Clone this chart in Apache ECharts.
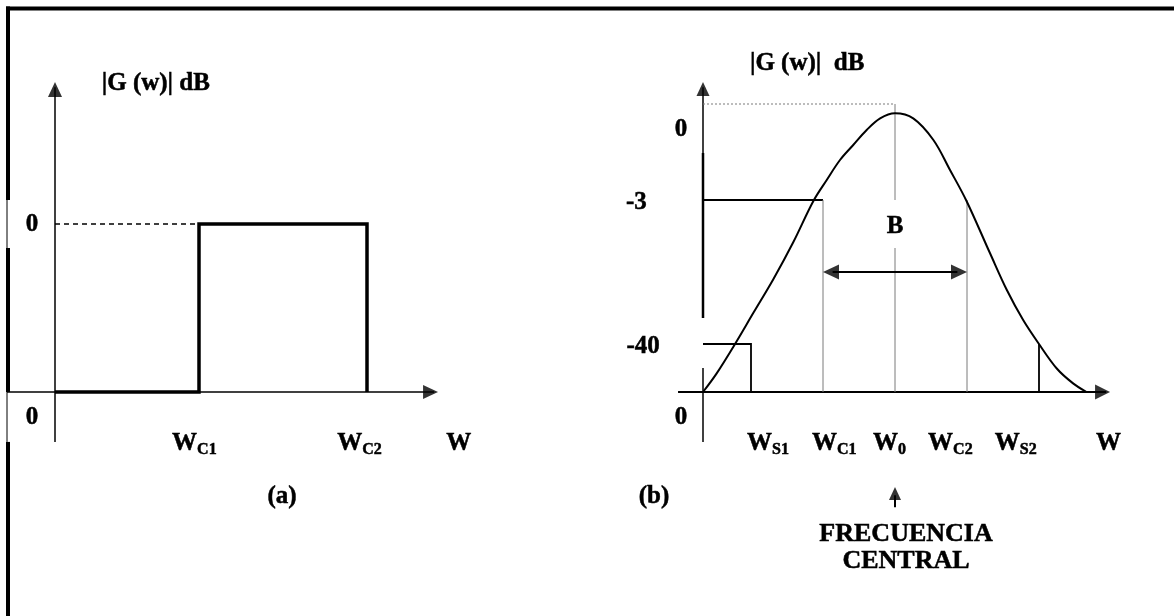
<!DOCTYPE html>
<html>
<head>
<meta charset="utf-8">
<script src="https://cdn.jsdelivr.net/npm/echarts@6/dist/echarts.min.js"></script>
<style>
  html, body { margin: 0; padding: 0; background: #fff; }
  #chart { width: 1174px; height: 616px; }
</style>
</head>
<body>
<div id="chart"></div>
<script>
// ---------- data ----------
// (a) ideal band-pass filter
const idealSubscripts = ['C1', 'C2'];
const idealCutoffs = [3.0, 6.5];          // W_C1, W_C2
const idealPassLevel = 3.5;               // 0 dB level of the pass band
const idealLevelTicks = ['0', '0'];       // pass band, stop band

// (b) real band-pass filter
const realSubscripts = ['S1', 'C1', '0', 'C2', 'S2'];
const realFreqs = [1.0, 2.5, 4.0, 5.5, 7.0];   // W_S1, W_C1, W_0, W_C2, W_S2
const realLevelTicks = ['0', '-3', '-40', '0'];
const realLevels = [6.0, 4.0, 1.0];            // peak reference, -3 dB, -40 dB
const realCurveX = [0, 0.285, 0.667, 1.05, 1.465, 1.88, 2.30, 2.578, 2.854, 3.13, 3.41, 3.69, 4.0,
                    4.38, 4.80, 5.146, 5.49, 5.98, 6.33, 6.67, 7.0, 7.37, 7.71, 7.99];
const realCurveY = [0, 0.389, 1.0, 1.65, 2.35, 3.12, 3.98, 4.417, 4.833, 5.146, 5.458, 5.70, 5.806,
                    5.70, 5.25, 4.625, 3.98, 2.89, 2.125, 1.5, 1.0, 0.49, 0.18, 0];
const bandwidthName = 'B';
const centreCaption = ['FRECUENCIA', 'CENTRAL'];
const axisTitle = ['|G (w)| dB', '|G (w)|  dB'];
const panelNames = ['(a)', '(b)'];

// ---------- layout ----------
const UNIT = 48;                 // pixels per data unit (both panels)
const Y_MIN = -4.5, Y_MAX = 8;
const FONT = '"Liberation Serif", "Times New Roman", serif';
const BLACK = '#000';
const GREY = '#7a7a7a';

function seg(g, pts, color, width, type, z) {
  return {
    type: 'line', xAxisIndex: g, yAxisIndex: g, data: pts,
    symbol: 'none', showSymbol: false, silent: true, animation: false,
    lineStyle: { color: color, width: width, type: type || 'solid', cap: 'butt', join: 'miter' },
    z: z || 3
  };
}

// filled triangular arrow head; tip given in data units, dir: 'right' | 'left' | 'up'
function heads(g, list) {
  return {
    type: 'scatter', xAxisIndex: g, yAxisIndex: g, silent: true, animation: false, z: 5,
    symbol: 'triangle', itemStyle: { color: BLACK },
    data: list.map(function (h) {
      const half = h.len / 2 / UNIT;
      let c, rot;
      if (h.dir === 'right') { c = [h.tip[0] - half, h.tip[1]]; rot = -90; }
      else if (h.dir === 'left') { c = [h.tip[0] + half, h.tip[1]]; rot = 90; }
      else { c = [h.tip[0], h.tip[1] - half]; rot = 0; }
      return { value: c, symbolSize: [h.wid, h.len], symbolRotate: rot };
    })
  };
}

// frequency label "W" + subscript, joined at x
function freqLabel(x, y, sub) {
  const out = [{ x: x, y: y, text: 'W', align: 'right' }];
  if (sub) out.push({ x: x, y: y, text: sub, align: 'left', size: 16, dy: 6 });
  return out;
}

const series = [];

// ----- panel (a) -----
const c1 = idealCutoffs[0], c2 = idealCutoffs[1], L = idealPassLevel;
series.push(seg(0, [[-1, 0], [7.9, 0]], BLACK, 1.5));
series.push(seg(0, [[0, -1.04], [0, 6.35]], BLACK, 1.5));
series.push(heads(0, [
  { tip: [7.98, 0], dir: 'right', len: 15, wid: 14 },
  { tip: [0, 6.46], dir: 'up', len: 15, wid: 14 }
]));
series.push(seg(0, [[0, L], [c1, L]], BLACK, 1.5, [5, 4]));
series.push(seg(0, [[0, 0], [c1, 0], [c1, L], [c2, L], [c2, 0]], BLACK, 3.5, 'solid', 4));

let labA = [
  { x: 2.10, y: 6.43, text: axisTitle[0] },
  { x: -0.48, y: L - 0.02, text: idealLevelTicks[0] },
  { x: -0.48, y: -0.53, text: idealLevelTicks[1] },
  { x: 4.73, y: -2.17, text: panelNames[0] }
];
const idealJoin = [2.96, 6.40];
idealSubscripts.forEach(function (s, i) { labA = labA.concat(freqLabel(idealJoin[i], -1.07, s)); });
labA = labA.concat(freqLabel(8.67, -1.07, ''));

// ----- panel (b) -----
const [fS1, fC1, f0, fC2, fS2] = realFreqs;
const [lTop, l3, l40] = realLevels;
series.push(seg(1, [[-0.52, 0], [8.4, 0]], BLACK, 2));
series.push(seg(1, [[0, 4.98], [0, 6.35]], BLACK, 1.5));
series.push(seg(1, [[0, 1.54], [0, 4.98]], BLACK, 2.5));
series.push(seg(1, [[0, -1.04], [0, 0.5]], BLACK, 1.5));
series.push(heads(1, [
  { tip: [8.48, 0], dir: 'right', len: 15, wid: 15 },
  { tip: [0, 6.46], dir: 'up', len: 14, wid: 13 },
  { tip: [fC1, 2.5], dir: 'left', len: 16, wid: 15 },
  { tip: [fC2, 2.5], dir: 'right', len: 16, wid: 15 },
  { tip: [f0, -1.98], dir: 'up', len: 13, wid: 12 }
]));
// response curve
series.push({
  type: 'line', xAxisIndex: 1, yAxisIndex: 1, smooth: 0.35, symbol: 'none', showSymbol: false,
  silent: true, animation: false, z: 4,
  lineStyle: { color: BLACK, width: 2 },
  data: realCurveX.map(function (x, i) { return [x, realCurveY[i]]; })
});
// -40 dB stop-band corner and the matching mark at W_S2
series.push(seg(1, [[0, l40], [fS1, l40], [fS1, 0]], BLACK, 1.8));
series.push(seg(1, [[fS2, 0], [fS2, l40]], BLACK, 1.8));
// -3 dB corner
series.push(seg(1, [[0, l3], [fC1, l3]], BLACK, 1.8));
series.push(seg(1, [[fC1, l3], [fC1, 0]], GREY, 1));
series.push(seg(1, [[fC2, l3], [fC2, 0]], GREY, 1));
// centre frequency and peak reference
series.push(seg(1, [[0, lTop], [f0, lTop]], GREY, 1, [2, 2]));
series.push(seg(1, [[f0, lTop], [f0, 4.0]], GREY, 1));
series.push(seg(1, [[f0, 3.0], [f0, 0]], GREY, 1));
// bandwidth arrow
series.push(seg(1, [[fC1 + 0.2, 2.5], [fC2 - 0.2, 2.5]], BLACK, 2));
// centre-frequency pointer
series.push(seg(1, [[f0, -2.4], [f0, -2.15]], BLACK, 2));

let labB = [
  { x: 2.17, y: 6.84, text: axisTitle[1] },
  { x: -0.46, y: 5.46, text: realLevelTicks[0] },
  { x: -1.17, y: l3 - 0.06, text: realLevelTicks[1], align: 'right' },
  { x: -0.90, y: l40 - 0.06, text: realLevelTicks[2], align: 'right' },
  { x: -0.46, y: -0.54, text: realLevelTicks[3] },
  { x: f0, y: 3.44, text: bandwidthName },
  { x: -1.02, y: -2.17, text: panelNames[1] },
  { x: 4.23, y: -2.96, text: centreCaption[0], size: 26 },
  { x: 4.23, y: -3.52, text: centreCaption[1], size: 26 }
];
const realJoin = [1.44, 2.79, 4.06, 5.21, 6.60];
realSubscripts.forEach(function (s, i) { labB = labB.concat(freqLabel(realJoin[i], -1.07, s)); });
labB = labB.concat(freqLabel(8.71, -1.07, ''));

const chart = echarts.init(document.getElementById('chart'), null, { renderer: 'canvas' });
chart.setOption({
  backgroundColor: '#fff',
  animation: false,
  grid: [
    { left: 7, top: 8, width: 10 * UNIT, height: (Y_MAX - Y_MIN) * UNIT },
    { left: 607, top: 8, width: 11 * UNIT, height: (Y_MAX - Y_MIN) * UNIT }
  ],
  xAxis: [
    { type: 'value', gridIndex: 0, min: -1, max: 9, show: false },
    { type: 'value', gridIndex: 1, min: -2, max: 9, show: false }
  ],
  yAxis: [
    { type: 'value', gridIndex: 0, min: Y_MIN, max: Y_MAX, show: false },
    { type: 'value', gridIndex: 1, min: Y_MIN, max: Y_MAX, show: false }
  ],
  series: series
});

// ----- texts, placed through each panel's axes -----
function textEl(g, t) {
  const p = chart.convertToPixel({ gridIndex: g }, [t.x, t.y]);
  return {
    type: 'text', silent: true, z: 10,
    x: p[0], y: p[1] + (t.dy || 0),
    style: {
      text: t.text, fill: BLACK, stroke: BLACK, lineWidth: 0.5,
      font: 'bold ' + (t.size || 25) + 'px ' + FONT,
      align: t.align || 'center', verticalAlign: 'middle'
    }
  };
}

// ----- page frame: heavy rule along the top and left edge, interrupted
// where the level labels of panel (a) sit in white boxes -----
const W = chart.getWidth(), H = chart.getHeight();
function py(v) { return chart.convertToPixel({ gridIndex: 0 }, [0, v])[1]; }
const boxA = [py(4.0), py(3.0)], boxB = [py(0), py(-1.04)];
const FX = 8, FXT = 7, FT = 8.5;
function gl(x1, y1, x2, y2, w) {
  return { type: 'line', silent: true, z: 2,
    shape: { x1: x1, y1: y1, x2: x2, y2: y2 },
    style: { stroke: BLACK, lineWidth: w, lineCap: 'butt' } };
}
const graphics = [
  gl(FX - 2, FT, W, FT, 4),
  gl(FX, FT - 2, FX, boxA[0], 4),
  gl(FX, boxA[1], FX, boxB[0], 4),
  gl(FX, boxB[1], FX, H, 4),
  gl(FXT, boxA[0], FXT, boxA[1], 1),
  gl(FXT, boxB[0], FXT, boxB[1], 1)
].concat(labA.map(function (t) { return textEl(0, t); }))
 .concat(labB.map(function (t) { return textEl(1, t); }));
chart.setOption({ graphic: graphics });
</script>
</body>
</html>
